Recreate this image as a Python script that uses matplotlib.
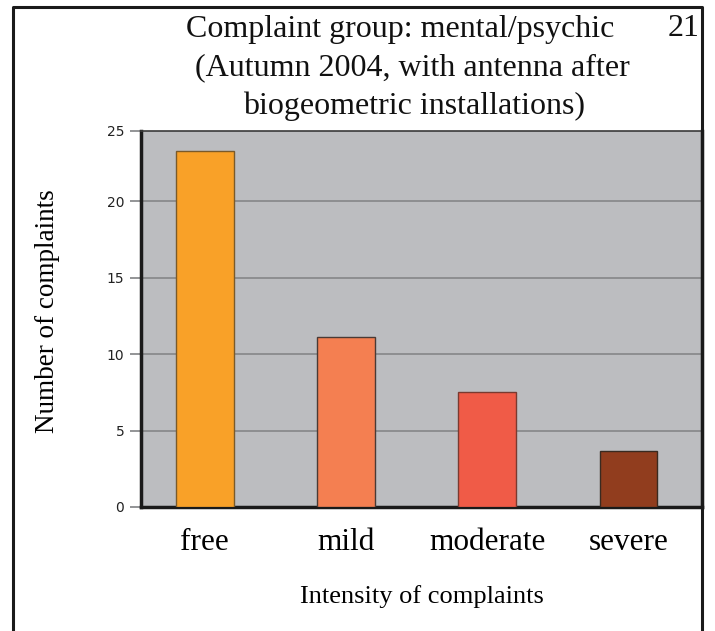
import matplotlib
matplotlib.use("Agg")
import matplotlib.pyplot as plt
from matplotlib.lines import Line2D

categories = ["free", "mild", "moderate", "severe"]
complaints = [23.3, 11.1, 7.5, 3.65]
bar_colors = ["#F9A128", "#F47F51", "#F05B47", "#913D1E"]
edge_colors = ["#7a5a2a", "#4a3a35", "#7a3a30", "#3a2a20"]
ytick_values = [0, 5, 10, 15, 20, 24.6]
ytick_labels = ["0", "5", "10", "15", "20", "25"]

W, H = 715, 631
fig = plt.figure(figsize=(W / 100, H / 100), dpi=100)

# axes box in pixels
left, right, top, bottom = 141, 702, 131, 507
ax = fig.add_axes([left / W, 1 - bottom / H, (right - left) / W, (bottom - top) / H])
ax.set_facecolor("#BCBDC0")

ax.bar(range(len(categories)), complaints, width=0.41, color=bar_colors,
       edgecolor=edge_colors, linewidth=1.0, zorder=3)

ax.set_xlim(-0.45, 3.52)
ax.set_ylim(0, 24.6)
ax.set_yticks(ytick_values)
ax.set_yticklabels(ytick_labels, fontsize=10, family="DejaVu Sans", color="#222222")
ax.set_xticks(range(len(categories)))
ax.set_xticklabels(categories, fontsize=22.5, family="Liberation Serif")
ax.tick_params(axis="x", length=0, pad=15)
ax.tick_params(axis="y", length=8, color="#8a8b8d", width=1.3, pad=4)

for y in ytick_values[1:-1]:
    ax.axhline(y, color="#8a8b8d", linewidth=1.3, zorder=1)

for side in ["left", "bottom", "right"]:
    ax.spines[side].set_linewidth(2.5)
    ax.spines[side].set_color("#1a1a1a")
ax.spines["top"].set_linewidth(1.2)
ax.spines["top"].set_color("#3a3a3a")

ax.set_xlabel("Intensity of complaints", fontsize=19, family="Liberation Serif", labelpad=20)
ax.set_ylabel("Number of complaints", fontsize=19.5, family="Liberation Serif", labelpad=34)
ax.yaxis.set_label_coords(-0.145, 0.52)

# outer frame
def px(x, y):
    return (x / W, 1 - y / H)

frame = [px(13, 640), px(13, 7), px(702, 7), px(702, 640)]
fig.add_artist(Line2D([p[0] for p in frame], [p[1] for p in frame],
                      transform=fig.transFigure, color="#1a1a1a", linewidth=2.2))

title_lines = [("Complaint group: mental/psychic", 400, 30),
               ("(Autumn 2004, with antenna after", 412, 68),
               ("biogeometric installations)", 414, 106)]
for txt, x, y in title_lines:
    fig.text(x / W, 1 - y / H, txt, ha="center", va="center",
             fontsize=23, family="Liberation Serif", color="#111111")
fig.text(684 / W, 1 - 28 / H, "21", ha="center", va="center",
         fontsize=23, family="Liberation Serif", color="#111111")

fig.savefig("out.png", dpi=100)
